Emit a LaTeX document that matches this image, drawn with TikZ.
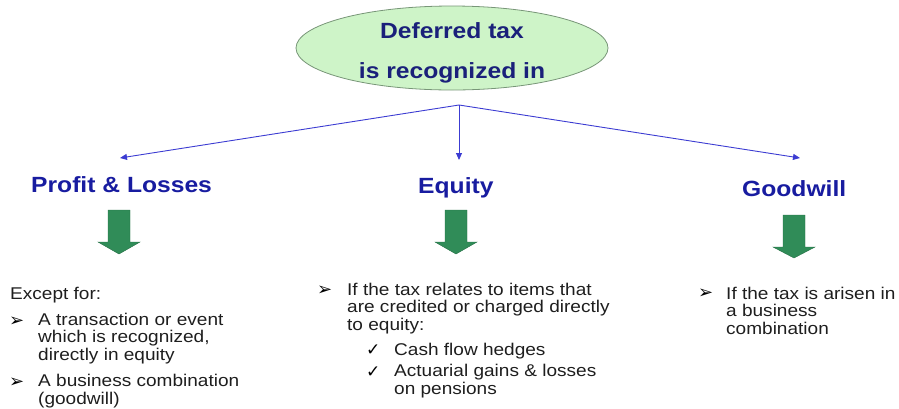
\documentclass[tikz,border=0pt]{standalone}
\usepackage{fontspec}
\setmainfont[FakeStretch=1.12]{Liberation Sans}
\newfontfamily\symfont{DejaVu Sans}
\usetikzlibrary{arrows.meta}
\definecolor{navy}{RGB}{26,32,122}
\definecolor{headblue}{RGB}{24,28,160}
\definecolor{linkblue}{RGB}{60,60,210}
\definecolor{ellfill}{RGB}{206,244,200}
\definecolor{elldraw}{RGB}{120,150,120}
\definecolor{arrgreen}{RGB}{48,140,88}
\definecolor{bodytext}{RGB}{30,30,30}
\tikzset{
  heading/.style={anchor=base west, inner sep=0pt, text=headblue, font=\fontsize{22}{22}\selectfont\bfseries},
  body/.style={anchor=base west, inner sep=0pt, text=bodytext, align=left, font=\fontsize{17}{17.2}\selectfont},
  bul/.style={anchor=base west, inner sep=0pt, text=black, font=\fontsize{18}{18}\selectfont\symfont},
  chk/.style={anchor=base west, inner sep=0pt, text=black, font=\fontsize{17}{17}\selectfont\symfont},
  link/.style={draw=linkblue, line width=0.9pt, -{Triangle[length=7pt,width=6pt]}},
  greenarrow/.style={fill=arrgreen, draw=arrgreen!80!black, line width=0.4pt}
}
\begin{document}
\begin{tikzpicture}[x=1pt,y=-1pt]
\useasboundingbox (0,0) rectangle (899,408);
% top ellipse
\draw[fill=ellfill, draw=elldraw, line width=0.8pt] (452,48) ellipse [x radius=156, y radius=42];
\node[inner sep=0pt, anchor=base, text=navy, font=\fontsize{22}{22}\selectfont\bfseries] (t1) at (452,38) {Deferred tax};
\node[inner sep=0pt, anchor=base, text=navy, font=\fontsize{22}{22}\selectfont\bfseries] (t2) at (452,78) {is recognized in};
% connectors
\coordinate (apex) at (459,105);
\coordinate (eL) at (120,158);
\coordinate (eM) at (459,160);
\coordinate (eR) at (800,158);
\draw[link] (apex) -- (eL);
\draw[link] (apex) -- (eM);
\draw[link] (apex) -- (eR);
% headings
\node[heading] (hp) at (31,192) {Profit \& Losses};
\node[heading] (he) at (418,193) {Equity};
\node[heading] (hg) at (742,196) {Goodwill};
% green arrows
\draw[greenarrow] (108,210) -- (130,210) -- (130,242) -- (140,242) -- (119,254) -- (98,242) -- (108,242) -- cycle;
\draw[greenarrow] (445,210) -- (467,210) -- (467,242) -- (477,242) -- (456,254) -- (435,242) -- (445,242) -- cycle;
\draw[greenarrow] (783,215) -- (805,215) -- (805,247) -- (815,247) -- (794,258) -- (773,247) -- (783,247) -- cycle;
% profit text (base anchor = baseline of last line)
\node[body] (pex) at (10,299) {Except for:};
\node[bul] (pb1) at (9,326) {➢};
\node[body] (pt1) at (38,360) {A transaction or event\\which is recognized,\\directly in equity};
\node[bul] (pb2) at (9,387) {➢};
\node[body] (pt2) at (38,404) {A business combination\\(goodwill)};
% equity text
\node[bul] (eb1) at (317,295) {➢};
\node[body] (et1) at (347,330) {If the tax relates to items that\\are credited or charged directly\\to equity:};
\node[chk] (ec1) at (366,355) {✓};
\node[body] (ect1) at (394,355) {Cash flow hedges};
\node[chk] (ec2) at (366,377) {✓};
\node[body] (ect2) at (394,394) {Actuarial gains \& losses\\on pensions};
% goodwill text
\node[bul] (gb1) at (698,298) {➢};
\node[body] (gt1) at (726,334) {If the tax is arisen in\\a business\\combination};
\end{tikzpicture}
\end{document}
